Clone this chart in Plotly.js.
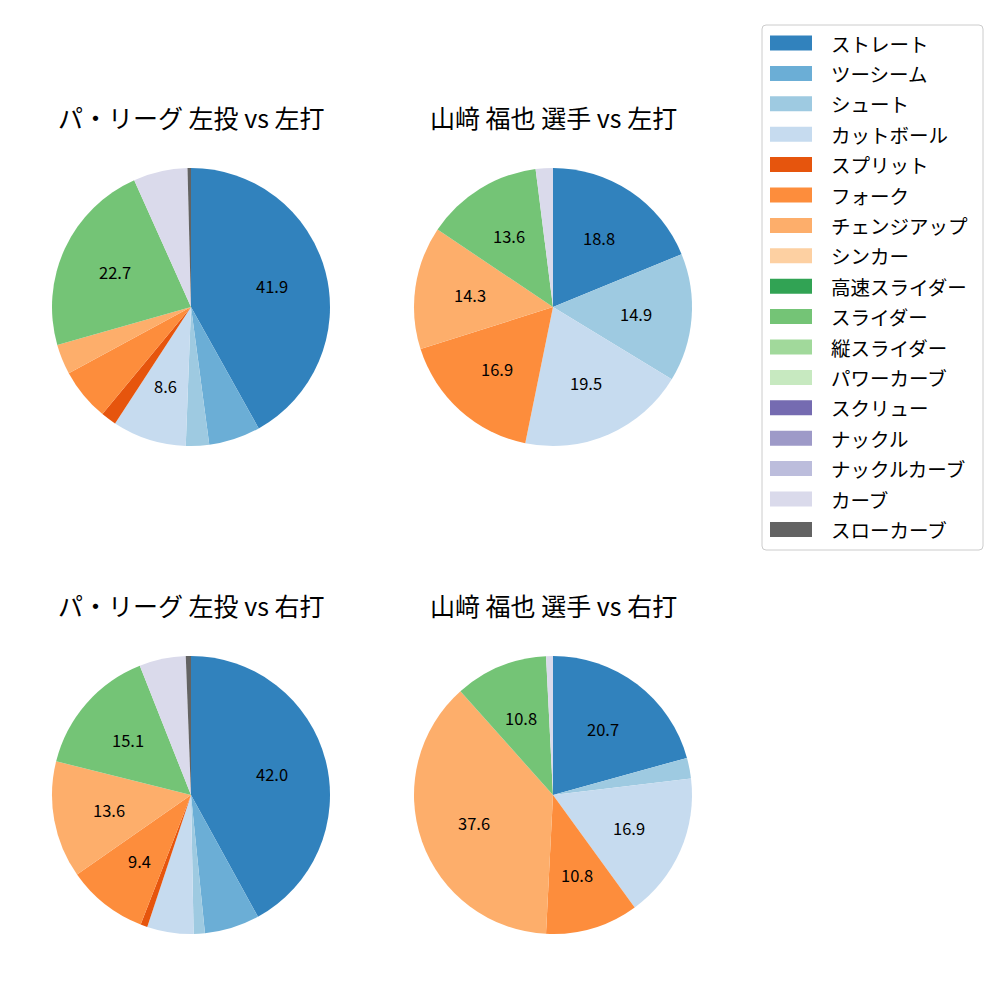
<!DOCTYPE html>
<html>
<head>
<meta charset="utf-8">
<script src="https://cdn.plot.ly/plotly-3.0.1.min.js"></script>
<style>html,body{margin:0;padding:0;background:#fff;}#chart{width:1000px;height:1000px;}</style>
</head>
<body>
<div id="chart"></div>
<script>
const categories = ["ストレート","ツーシーム","シュート","カットボール","スプリット","フォーク","チェンジアップ","シンカー","高速スライダー","スライダー","縦スライダー","パワーカーブ","スクリュー","ナックル","ナックルカーブ","カーブ","スローカーブ"];
const colors = ["#3182bd","#6baed6","#9ecae1","#c6dbef","#e6550d","#fd8d3c","#fdae6b","#fdd0a2","#31a354","#74c476","#a1d99b","#c7e9c0","#756bb1","#9e9ac8","#bcbddc","#dadaeb","#636363"];
const titles = ["パ・リーグ 左投 vs 左打","山﨑 福也 選手 vs 左打","パ・リーグ 左投 vs 右打","山﨑 福也 選手 vs 右打"];
const leagueVsLeft   = [41.9, 6.0, 2.7, 8.6, 1.8, 6.1, 3.5, 0, 0, 22.7, 0, 0, 0, 0, 0, 6.3, 0.4];
const playerVsLeft   = [18.8, 0, 14.9, 19.5, 0, 16.9, 14.3, 0, 0, 13.6, 0, 0, 0, 0, 0, 2.0, 0];
const leagueVsRight  = [42.0, 6.4, 1.3, 5.4, 0.8, 9.4, 13.6, 0, 0, 15.1, 0, 0, 0, 0, 0, 5.4, 0.6];
const playerVsRight  = [20.7, 0, 2.4, 16.9, 0, 10.8, 37.6, 0, 0, 10.8, 0, 0, 0, 0, 0, 0.8, 0];

const W = 1000, H = 1000;
const FONT = "Noto Sans CJK JP, Noto Sans, sans-serif";
const series = [leagueVsLeft, playerVsLeft, leagueVsRight, playerVsRight];
const centers = [[191,307],[553,307],[191,795],[553,795]];
const R = 139;
const LABEL_MIN = 7;

const traces = [];
const annotations = [];
const shapes = [];

series.forEach((vals, i) => {
  const [cx, cy] = centers[i];
  traces.push({
    type: "pie",
    labels: categories,
    values: vals,
    marker: {colors: colors, line: {width: 0}},
    sort: false,
    direction: "clockwise",
    rotation: 0,
    textinfo: "none",
    hoverinfo: "label+percent",
    showlegend: false,
    domain: {x: [(cx - R) / W, (cx + R) / W], y: [1 - (cy + R) / H, 1 - (cy - R) / H]}
  });
  // percentage labels at 0.6 radius
  const total = vals.reduce((a, b) => a + b, 0);
  let cum = 0;
  vals.forEach(v => {
    if (v <= 0) return;
    const pct = v / total * 100;
    const mid = (cum + v / 2) / total * 2 * Math.PI;
    cum += v;
    if (pct < LABEL_MIN) return;
    const px = cx + 0.6 * R * Math.sin(mid);
    const py = cy - 0.6 * R * Math.cos(mid);
    annotations.push({
      xref: "paper", yref: "paper", x: px / W, y: 1 - py / H,
      xanchor: "center", yanchor: "middle", showarrow: false,
      text: pct.toFixed(1), font: {family: FONT, size: 16.5, color: "#000"}
    });
  });
  annotations.push({
    xref: "paper", yref: "paper", x: cx / W, y: 1 - (cy - 190) / H,
    xanchor: "center", yanchor: "middle", showarrow: false,
    text: titles[i], font: {family: FONT, size: 25, color: "#000"}
  });
});

// legend box
const lx0 = 762, lx1 = 983, ly0 = 25, ly1 = 550, rr = 4;
const px = x => x / W, py = y => 1 - y / H;
shapes.push({
  type: "path", xref: "paper", yref: "paper",
  path: `M ${px(lx0+rr)} ${py(ly0)} L ${px(lx1-rr)} ${py(ly0)} Q ${px(lx1)} ${py(ly0)} ${px(lx1)} ${py(ly0+rr)} L ${px(lx1)} ${py(ly1-rr)} Q ${px(lx1)} ${py(ly1)} ${px(lx1-rr)} ${py(ly1)} L ${px(lx0+rr)} ${py(ly1)} Q ${px(lx0)} ${py(ly1)} ${px(lx0)} ${py(ly1-rr)} L ${px(lx0)} ${py(ly0+rr)} Q ${px(lx0)} ${py(ly0)} ${px(lx0+rr)} ${py(ly0)} Z`,
  fillcolor: "rgba(255,255,255,0.8)", line: {color: "#cccccc", width: 1}
});
categories.forEach((c, k) => {
  const yc = 43 + k * 30.4;
  shapes.push({
    type: "rect", xref: "paper", yref: "paper",
    x0: px(770), x1: px(812), y0: py(yc + 7.5), y1: py(yc - 7.5),
    fillcolor: colors[k], line: {width: 0}
  });
  annotations.push({
    xref: "paper", yref: "paper", x: px(829), y: py(yc),
    xanchor: "left", yanchor: "middle", showarrow: false,
    text: c, font: {family: FONT, size: 19.5, color: "#000"}
  });
});

const layout = {
  width: W, height: H,
  margin: {l: 0, r: 0, t: 0, b: 0},
  paper_bgcolor: "#fff",
  showlegend: false,
  annotations: annotations,
  shapes: shapes
};
Plotly.newPlot("chart", traces, layout, {displayModeBar: false, staticPlot: true});
</script>
</body>
</html>
